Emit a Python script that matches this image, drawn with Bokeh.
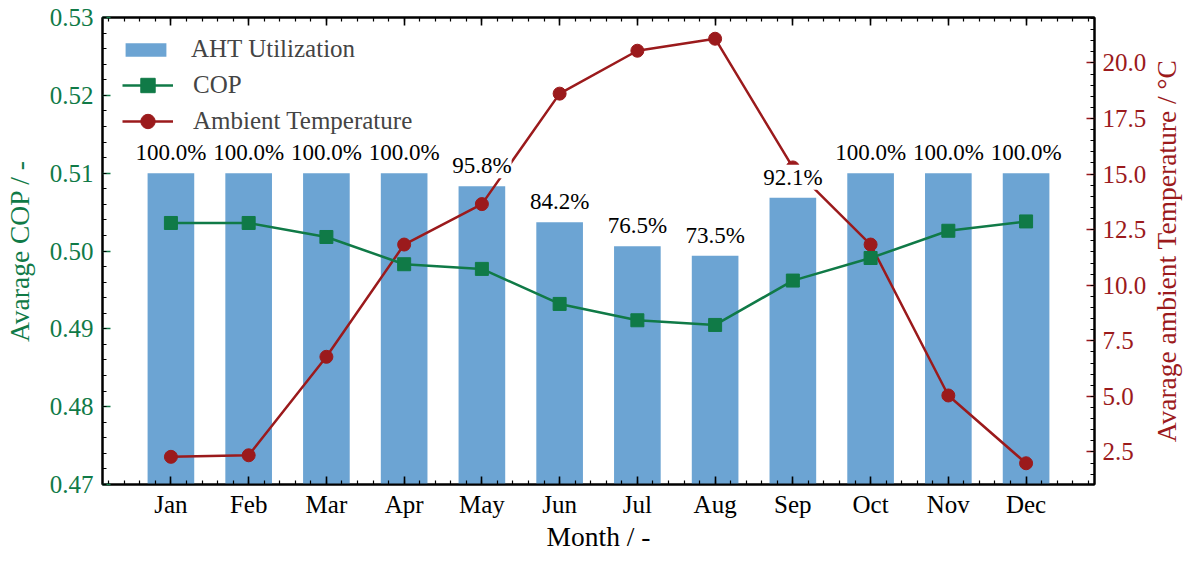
import numpy as np
from math import pi
from bokeh.plotting import figure
from bokeh.layouts import row
from bokeh.models import (Range1d, LinearAxis, FixedTicker, PrintfTickFormatter,
                          ColumnDataSource, LabelSet, Legend, LegendItem,
                          CustomLabelingPolicy)
from bokeh.core.properties import value
from bokeh.embed import file_html
from bokeh.resources import INLINE

# ---------------- data ----------------
months = ["Jan", "Feb", "Mar", "Apr", "May", "Jun",
          "Jul", "Aug", "Sep", "Oct", "Nov", "Dec"]
aht_utilization = [100.0, 100.0, 100.0, 100.0, 95.8, 84.2,
                   76.5, 73.5, 92.1, 100.0, 100.0, 100.0]
cop = [0.5036, 0.5036, 0.5018, 0.4983, 0.4977, 0.4932,
       0.4911, 0.4905, 0.4962, 0.4991, 0.5026, 0.5038]
ambient_temp = [2.28, 2.35, 6.78, 11.83, 13.65, 18.62,
                20.55, 21.09, 15.30, 11.83, 5.04, 1.99]
cop_ticks = [0.47, 0.48, 0.49, 0.50, 0.51, 0.52, 0.53]
temp_ticks = [2.5, 5.0, 7.5, 10.0, 12.5, 15.0, 17.5, 20.0]
right_axis_title = "Avarage ambient Temperature / °C"

# bars are drawn on the COP axis: 0 % -> 0.47, 100 % -> 0.51
BAR_BASE, BAR_FULL = 0.47, 0.51
BAR_WIDTH = 0.6

FONT = "Liberation Serif"
BLUE = "#6ca4d3"
GREEN = "#107a47"
RED = "#9b1a1c"

TOTAL_W, H = 1183, 554
TITLE_W = 34
BORDER_TOP, BORDER_BOTTOM = 17, 64

x = list(range(len(months)))
bar_top = [BAR_BASE + u / 100.0 * (BAR_FULL - BAR_BASE) for u in aht_utilization]
labels = ["%.1f%%" % u for u in aht_utilization]

src = ColumnDataSource(dict(x=x, top=bar_top, lbl=labels, cop=cop, temp=ambient_temp))

# ranges (matplotlib-like 5 % margins)
xlo, xhi = -BAR_WIDTH / 2, len(months) - 1 + BAR_WIDTH / 2
xm = 0.05 * (xhi - xlo)
tlo, thi = min(ambient_temp), max(ambient_temp)
tm = 0.05 * (thi - tlo)

p = figure(width=TOTAL_W - TITLE_W, height=H,
           x_range=Range1d(xlo - xm, xhi + xm),
           y_range=Range1d(cop_ticks[0], cop_ticks[-1]),
           output_backend="svg", toolbar_location=None,
           min_border_left=100, min_border_right=54,
           min_border_top=BORDER_TOP, min_border_bottom=40)
p.extra_y_ranges = {"temp": Range1d(tlo - tm, thi + tm)}
p.xgrid.visible = False
p.ygrid.visible = False
p.outline_line_color = "black"
p.outline_line_width = 2
p.background_fill_color = "white"
p.border_fill_color = "white"


def style_axis(ax, major_color, label_color="black"):
    ax.axis_line_color = "black"
    ax.axis_line_width = 2
    ax.major_tick_in = 8
    ax.major_tick_out = 0
    ax.minor_tick_in = 4
    ax.minor_tick_out = 0
    ax.major_tick_line_color = major_color
    ax.major_tick_line_width = 1.6
    ax.minor_tick_line_color = "black"
    ax.minor_tick_line_width = 1.2
    ax.major_label_text_font = FONT
    ax.major_label_text_font_size = "25px"
    ax.major_label_text_color = label_color
    ax.axis_label_text_font = FONT
    ax.axis_label_text_font_size = "27.5px"
    ax.axis_label_text_font_style = "normal"
    ax.axis_label_text_color = label_color
    ax.major_label_standoff = 9


# bottom x axis
month_ticker = FixedTicker(ticks=x,
                           minor_ticks=[round(v, 2) for v in np.arange(-0.8, 11.81, 0.2)])
xa = p.xaxis[0]
xa.ticker = month_ticker
xa.major_label_overrides = {i: m for i, m in enumerate(months)}
xa.axis_label = "Month / -"
style_axis(xa, "black")
xa.major_label_standoff = 6
xa.axis_label_standoff = 0

# top mirrored axis (ticks only, no labels drawn)
top = LinearAxis(ticker=month_ticker)
style_axis(top, "black")
top.major_label_text_font_size = "0px"
top.major_label_standoff = 0
top.major_label_policy = CustomLabelingPolicy(
    code="return new indices.constructor(indices.size)")
p.add_layout(top, "above")

# left COP axis
ya = p.yaxis[0]
ya.ticker = FixedTicker(ticks=cop_ticks,
                        minor_ticks=[round(v, 4) for v in np.arange(0.47, 0.5301, 0.002)])
ya.formatter = PrintfTickFormatter(format="%.2f")
ya.axis_label = "Avarage COP / -"
style_axis(ya, GREEN, GREEN)
ya.axis_label_standoff = 12

# right temperature axis
ra = LinearAxis(y_range_name="temp",
                ticker=FixedTicker(ticks=temp_ticks,
                                   minor_ticks=[round(v, 2) for v in np.arange(1.5, 22.01, 0.5)]),
                formatter=PrintfTickFormatter(format="%.1f"))
style_axis(ra, RED, RED)
ra.major_label_standoff = 8
p.add_layout(ra, "right")

# glyphs
bars = p.vbar(x="x", width=BAR_WIDTH, bottom=BAR_BASE, top="top", source=src,
              fill_color=BLUE, line_color=None)
t_line = p.line("x", "temp", source=src, y_range_name="temp",
                line_color=RED, line_width=2.5)
t_pts = p.scatter("x", "temp", source=src, y_range_name="temp",
                  marker="circle", size=13, fill_color=RED, line_color=RED)
c_line = p.line("x", "cop", source=src, line_color=GREEN, line_width=2.5)
c_pts = p.scatter("x", "cop", source=src, marker="square", size=13,
                  fill_color=GREEN, line_color=GREEN)

lbls = LabelSet(x="x", y="top", text="lbl", source=src,
                text_align="center", text_baseline="bottom", y_offset=8,
                text_font=value(FONT), text_font_size=value("23px"),
                text_color="black", background_fill_color="white")
try:
    lbls.padding = 3
except Exception:
    pass
p.add_layout(lbls)

leg1 = Legend(items=[LegendItem(label="AHT Utilization", renderers=[bars])],
              location="top_left", margin=18, padding=0, spacing=0,
              glyph_width=51, glyph_height=17, label_height=17, label_standoff=20,
              label_text_font=FONT, label_text_font_size="25px",
              border_line_alpha=0, background_fill_alpha=0)
leg2 = Legend(items=[LegendItem(label="COP", renderers=[c_line, c_pts]),
                     LegendItem(label="Ambient Temperature", renderers=[t_line, t_pts])],
              location=(20, 345), margin=0, padding=0, spacing=0,
              glyph_width=51, glyph_height=36, label_height=36, label_standoff=20,
              label_text_font=FONT, label_text_font_size="25px",
              border_line_alpha=0, background_fill_alpha=0)
p.add_layout(leg1)
p.add_layout(leg2)

# narrow strip to the right holding the right-axis title, reading upwards
t = figure(width=TITLE_W, height=H, x_range=Range1d(0, 1), y_range=Range1d(0, 1),
           output_backend="svg", toolbar_location=None,
           min_border_left=0, min_border_right=0,
           min_border_top=BORDER_TOP, min_border_bottom=BORDER_BOTTOM)
t.axis.visible = False
t.grid.visible = False
t.outline_line_color = None
t.background_fill_color = "white"
t.border_fill_color = "white"
t.text(x=[0.5], y=[0.5], text=[right_axis_title], angle=pi / 2,
       text_align="center", text_baseline="middle",
       text_font=value(FONT), text_font_size=value("27.5px"), text_color=RED)

layout = row(p, t, spacing=0)
open("out.html", "w").write(file_html(layout, INLINE))
